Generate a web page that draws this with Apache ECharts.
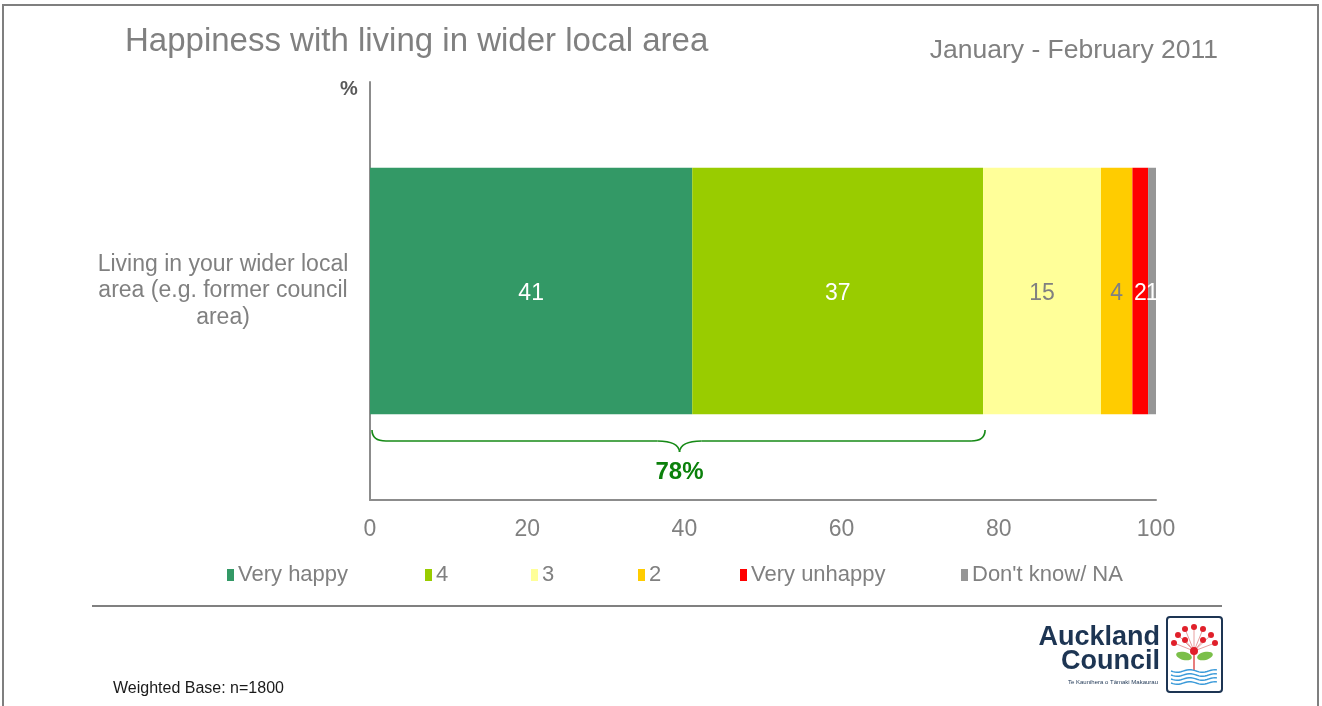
<!DOCTYPE html>
<html>
<head>
<meta charset="utf-8">
<title>Happiness with living in wider local area</title>
<script src="https://cdn.jsdelivr.net/npm/echarts@6/dist/echarts.min.js"></script>
<style>
  html, body { margin: 0; padding: 0; background: #ffffff; }
  #chart { width: 1322px; height: 706px; }
</style>
</head>
<body>
<div id="chart"></div>
<script>
// Survey: happiness with living in the wider local area (%)
const categories = ['Living in your wider local\narea (e.g. former council\narea)'];
const seriesNames = ['Very happy', '4', '3', '2', 'Very unhappy', "Don't know/ NA"];
const veryHappy = [41];
const four = [37];
const three = [15];
const two = [4];
const veryUnhappy = [2];
const dontKnow = [1];
const xTickLabels = ['0', '20', '40', '60', '80', '100'];
// Net happy (very happy + 4), marked with a brace under the bar
const netHappy = [78];

const FONT = '"Liberation Sans", Arial, sans-serif';
const GREY = '#808080';
const NAVY = '#1d3553';

const seriesValues = [veryHappy, four, three, two, veryUnhappy, dontKnow];
const seriesColors = ['#339966', '#99cc00', '#ffff99', '#ffcc00', '#ff0000', '#969696'];
const labelColors = ['#ffffff', '#ffffff', GREY, GREY, '#ffffff', '#ffffff'];
const legendLeft = [227, 425, 531, 638, 740, 961];

const chart = echarts.init(document.getElementById('chart'), null, { renderer: 'canvas' });

const barSeries = seriesNames.map((name, i) => ({
  name: name,
  type: 'bar',
  stack: 'total',
  barWidth: '59%',
  itemStyle: { color: seriesColors[i] },
  label: {
    show: true,
    position: 'inside',
    offset: [0, 3],
    color: labelColors[i],
    fontSize: 23,
    fontFamily: FONT
  },
  emphasis: { disabled: true },
  data: seriesValues[i]
}));

// Curly brace spanning 0..net value, drawn through the axis scales
const braceSeries = {
  type: 'custom',
  name: 'net',
  silent: true,
  z: 5,
  encode: { x: [0, 1], y: 2 },
  data: [[0, netHappy[0], 0]],
  renderItem: function (params, api) {
    const a = api.coord([api.value(0), api.value(2)]);
    const b = api.coord([api.value(1), api.value(2)]);
    const cy = a[1];
    const x0 = a[0] + 2;
    const x1 = b[0] + 2;
    const xm = (a[0] + b[0]) / 2 + 3;
    const top = cy + 139;
    const mid = cy + 150;
    const tip = cy + 161;
    const st = { stroke: '#168a16', lineWidth: 1.6, fill: null };
    return {
      type: 'group',
      children: [
        { type: 'bezierCurve', shape: { x1: x0, y1: top, cpx1: x0, cpy1: mid, x2: x0 + 14, y2: mid }, style: st },
        { type: 'line', shape: { x1: x0 + 14, y1: mid, x2: xm - 22, y2: mid }, style: st },
        { type: 'bezierCurve', shape: { x1: xm - 22, y1: mid, cpx1: xm - 1, cpy1: mid, x2: xm, y2: tip }, style: st },
        { type: 'bezierCurve', shape: { x1: xm + 22, y1: mid, cpx1: xm + 1, cpy1: mid, x2: xm, y2: tip }, style: st },
        { type: 'line', shape: { x1: xm + 22, y1: mid, x2: x1 - 14, y2: mid }, style: st },
        { type: 'bezierCurve', shape: { x1: x1 - 14, y1: mid, cpx1: x1, cpy1: mid, x2: x1, y2: top }, style: st },
        {
          type: 'text',
          style: {
            text: netHappy[0] + '%',
            x: xm, y: cy + 181,
            align: 'center', verticalAlign: 'middle',
            fill: '#0b800b',
            font: 'bold 24px ' + FONT
          }
        }
      ]
    };
  }
};

const legends = seriesNames.map((name, i) => ({
  data: [name],
  left: legendLeft[i],
  top: 564,
  padding: 0,
  icon: 'rect',
  itemWidth: 7,
  itemHeight: 12,
  itemGap: 0,
  selectedMode: false,
  textStyle: { fontSize: 22, color: GREY, fontFamily: FONT, padding: [0, 0, 0, -1] }
}));

// Pohutukawa emblem pieces for the council logo
const logoDots = [
  [1174, 643], [1178, 635], [1185, 629], [1194, 627], [1203, 629], [1211, 635], [1215, 643],
  [1185, 640], [1203, 640]
];
const logoCentre = [1194, 651];
const logo = [];
logoDots.forEach(d => {
  logo.push({ type: 'line', shape: { x1: logoCentre[0], y1: logoCentre[1], x2: d[0], y2: d[1] }, style: { stroke: '#e8a0a0', lineWidth: 1 } });
});
logoDots.forEach(d => {
  logo.push({ type: 'circle', shape: { cx: d[0], cy: d[1], r: 3 }, style: { fill: '#e0202a' } });
});
logo.push({ type: 'line', shape: { x1: 1194, y1: 652, x2: 1194, y2: 670 }, style: { stroke: '#e05050', lineWidth: 1.5 } });
logo.push({ type: 'ellipse', shape: { cx: 1184, cy: 656, rx: 8, ry: 4 }, rotation: -0.25, originX: 1184, originY: 656, style: { fill: '#7bbf4a' } });
logo.push({ type: 'ellipse', shape: { cx: 1205, cy: 656, rx: 8, ry: 4 }, rotation: 0.25, originX: 1205, originY: 656, style: { fill: '#7bbf4a' } });
logo.push({ type: 'circle', shape: { cx: logoCentre[0], cy: logoCentre[1], r: 4 }, style: { fill: '#e0202a' } });
[671, 675, 679, 683].forEach(y => {
  const pts = [];
  for (let x = 1171; x <= 1218; x += 2) {
    pts.push([x, y + 1.3 * Math.sin((x - 1171) / 4)]);
  }
  logo.push({ type: 'polyline', shape: { points: pts }, style: { stroke: '#3a9ad9', lineWidth: 1.4, fill: null } });
});
logo.push({ type: 'rect', shape: { x: 1167, y: 617, width: 55, height: 75, r: 3 }, style: { stroke: NAVY, lineWidth: 2, fill: null } });

const option = {
  animation: false,
  backgroundColor: '#ffffff',
  textStyle: { fontFamily: FONT },
  grid: { left: 370, right: 166, top: 82, bottom: 206, containLabel: false },
  legend: legends,
  xAxis: {
    type: 'value',
    min: 0,
    max: 100,
    interval: 20,
    splitLine: { show: false },
    axisTick: { show: false },
    axisLine: { show: true, lineStyle: { color: '#8c8c8c', width: 2 } },
    axisLabel: {
      color: GREY, fontSize: 23, fontFamily: FONT, margin: 18,
      formatter: function (v) { return xTickLabels[Math.round(v / 20)]; }
    }
  },
  yAxis: {
    type: 'category',
    data: categories,
    axisTick: { show: false },
    axisLine: { show: true, lineStyle: { color: '#8c8c8c', width: 2 } },
    axisLabel: {
      color: GREY, fontSize: 23, fontFamily: FONT, lineHeight: 26.5,
      align: 'center', margin: 147, padding: [6, 0, 0, 0]
    }
  },
  series: barSeries.concat([braceSeries]),
  graphic: [
    { type: 'rect', shape: { x: 3, y: 5, width: 1315, height: 720 }, style: { stroke: '#7f7f7f', lineWidth: 2, fill: null }, silent: true },
    { type: 'text', style: { text: 'Happiness with living in wider local area', x: 125, y: 42, verticalAlign: 'middle', fill: GREY, font: '33px ' + FONT } },
    { type: 'text', style: { text: 'January - February 2011', x: 1218, y: 51, align: 'right', verticalAlign: 'middle', fill: GREY, font: '26.5px ' + FONT } },
    { type: 'text', style: { text: '%', x: 349, y: 89, align: 'center', verticalAlign: 'middle', fill: '#595959', font: 'bold 20px ' + FONT } },
    { type: 'line', shape: { x1: 92, y1: 606, x2: 1222, y2: 606 }, style: { stroke: '#808080', lineWidth: 2 } },
    { type: 'text', style: { text: 'Weighted Base: n=1800', x: 113, y: 689, verticalAlign: 'middle', fill: '#1a1a1a', font: '16px ' + FONT } },
    { type: 'text', style: { text: 'Auckland', x: 1160, y: 638, align: 'right', verticalAlign: 'middle', fill: NAVY, font: 'bold 27px ' + FONT } },
    { type: 'text', style: { text: 'Council', x: 1160, y: 662, align: 'right', verticalAlign: 'middle', fill: NAVY, font: 'bold 27px ' + FONT } },
    { type: 'text', style: { text: 'Te Kaunihera o Tāmaki Makaurau', x: 1158, y: 682, align: 'right', verticalAlign: 'middle', fill: NAVY, font: '6px ' + FONT } },
    { type: 'group', children: logo, silent: true }
  ]
};

chart.setOption(option);
</script>
</body>
</html>
